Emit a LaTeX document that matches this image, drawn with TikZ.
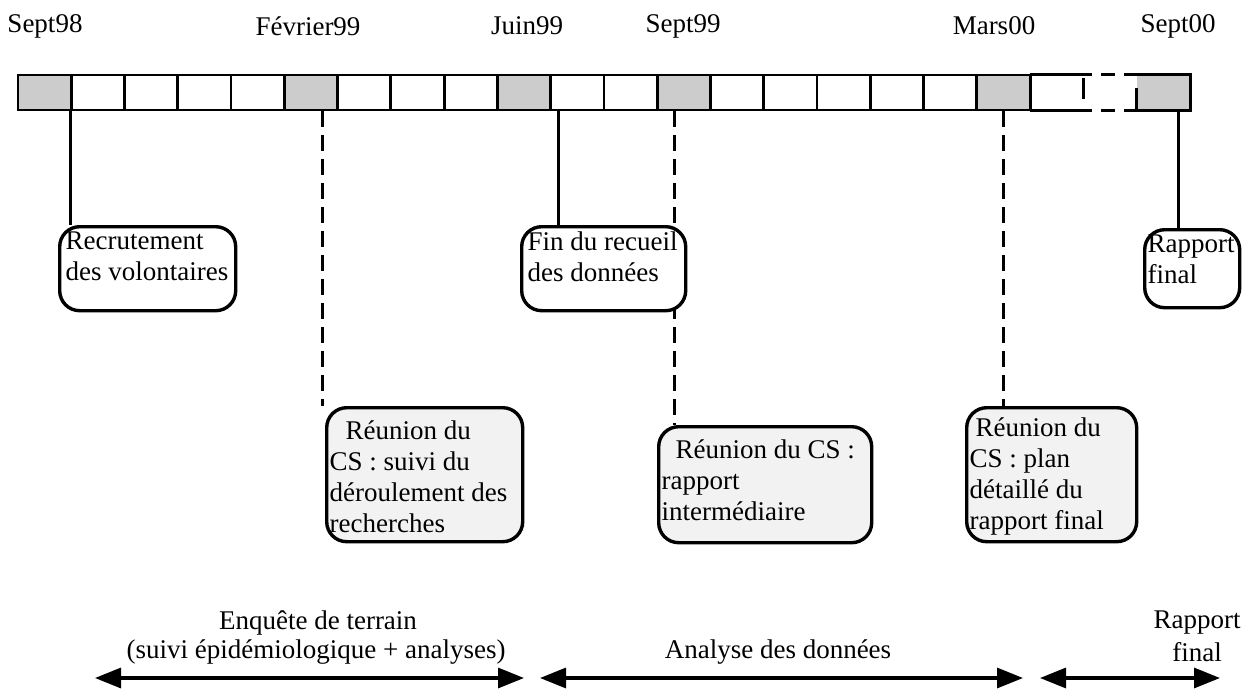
\documentclass[tikz,border=0pt]{standalone}
\usepackage{fontspec}
\setmainfont{Liberation Serif}
\usetikzlibrary{arrows.meta,backgrounds}
\begin{document}
\begin{tikzpicture}[x=1pt,y=-1pt,
  every node/.style={font=\fontsize{27}{31}\selectfont},
  cell/.style={draw, line width=2.8pt, minimum width=53.27pt, minimum height=35pt, inner sep=0pt},
  nocell/.style={minimum width=53.27pt, minimum height=35pt, inner sep=0pt},
  shade/.style={fill=black!20},
  rbox/.style={draw, line width=3.4pt, rounded corners=20pt, inner xsep=6pt, inner ysep=5pt, anchor=north west, fill=white, align=left},
  sbox/.style={rbox, fill=black!5},
  conn/.style={line width=3pt},
  dconn/.style={line width=3pt, dash pattern=on 16pt off 8pt},
  barline/.style={line width=2.8pt},
  lab/.style={inner sep=0pt},
  span/.style={line width=3.2pt, {Triangle[length=26pt,width=20pt]}-{Triangle[length=26pt,width=20pt]}}
]
\useasboundingbox (0,0) rectangle (1248,698);
% top labels
\node[lab] (l0) at (45,26) {Sept98};
\node[lab] (l5) at (308,26) {Février99};
\node[lab] (l9) at (527,26) {Juin99};
\node[lab] (l12) at (683,26) {Sept99};
\node[lab] (l18) at (994,26) {Mars00};
\node[lab] (l21) at (1178,26) {Sept00};
% bar cells
\foreach \i in {0,...,18} {
  \node[cell] (c\i) at ({18+53.27*(\i+0.5)},92.5) {};
}
\foreach \i in {0,5,9,12,18} {
  \node[cell,shade] at (c\i) {};
}
\node[nocell] (c19) at ({18+53.27*19.5},92.5) {};
\node[nocell] (c20) at ({18+53.27*20.5},92.5) {};
\node[nocell,shade] (c21) at ({18+53.27*21.5},92.5) {};
\draw[barline] (c19.north west) -- (c19.north east);
\draw[barline] (c19.south west) -- (c19.south east);
\draw[barline, dash pattern=on 14pt off 9pt, dash phase=-18pt] (c20.north west) -- (c20.north east);
\draw[barline, dash pattern=on 14pt off 9pt, dash phase=-18pt] (c20.south west) -- (c20.south east);
\draw[barline] ([yshift=-3pt]c20.north west) -- ([yshift=11pt]c20.south west);
\draw[barline] ([yshift=-13pt]c21.north west) -- (c21.south west);
\draw[barline] (c21.north west) -- (c21.north east) -- (c21.south east) -- (c21.south west);
% boxes
\node[rbox] (b1) at (58,225) {\parbox[c][74pt][t]{164pt}{Recrutement\\des volontaires}};
\node[rbox] (b3) at (520,225) {\parbox[c][74pt][t]{152pt}{Fin du recueil\\des données}};
\node[rbox, inner xsep=3pt] (b7) at (1143,228) {\parbox[c][68pt][t]{89pt}{Rapport\\final}};
\node[sbox, inner xsep=3pt, inner ysep=10pt] (b4) at (325,406) {\parbox[c][114pt][t]{190pt}{\vspace*{3pt}\hspace*{16pt}Réunion du\\CS : suivi du\\déroulement des\\recherches}};
\node[sbox, inner xsep=3pt, inner ysep=10pt] (b5) at (657,425) {\parbox[c][96pt][t]{207pt}{\vspace*{3pt}\hspace*{14pt}Réunion du CS :\\rapport\\intermédiaire}};
\node[sbox, inner xsep=3pt, inner ysep=10pt] (b6) at (965,406) {\parbox[c][114pt][t]{164pt}{\hspace*{6pt}Réunion du\\CS : plan\\détaillé du\\rapport final}};
% connectors
\begin{scope}[on background layer]
\draw[conn] ([xshift=-2pt]c0.south east) -- ([xshift=-2pt]c0.south east |- b1.north);
\draw[dconn] ([xshift=12pt]c5.south) -- ([xshift=12pt]c5.south |- b4.north);
\draw[conn] ([xshift=6pt]c9.south east) -- ([xshift=6pt]c9.south east |- b3.north);
\draw[dconn] ([xshift=-9pt]c12.south) -- ([xshift=-9pt]c12.south |- b5.north);
\draw[dconn] (c18.south) -- (c18.south |- b6.north);
\draw[conn] ([xshift=15pt]c21.south) -- ([xshift=15pt]c21.south |- b7.north);
\end{scope}
% bottom spans
\coordinate (a1) at (95,678);
\coordinate (a2) at (524,678);
\coordinate (a3) at (540,678);
\coordinate (a4) at (1023,678);
\coordinate (a5) at (1040,678);
\coordinate (a6) at (1220,678);
\draw[span] (a1) -- (a2);
\draw[span] (a3) -- (a4);
\draw[span] (a5) -- (a6);
\node[lab] (t1) at (318,623) {Enquête de terrain};
\node[lab] (t2) at (316,652) {(suivi épidémiologique + analyses)};
\node[lab] (t3) at (778,652) {Analyse des données};
\node[lab] (t4) at (1197,623) {Rapport};
\node[lab] (t5) at (1197,652) {final};
\end{tikzpicture}
\end{document}
